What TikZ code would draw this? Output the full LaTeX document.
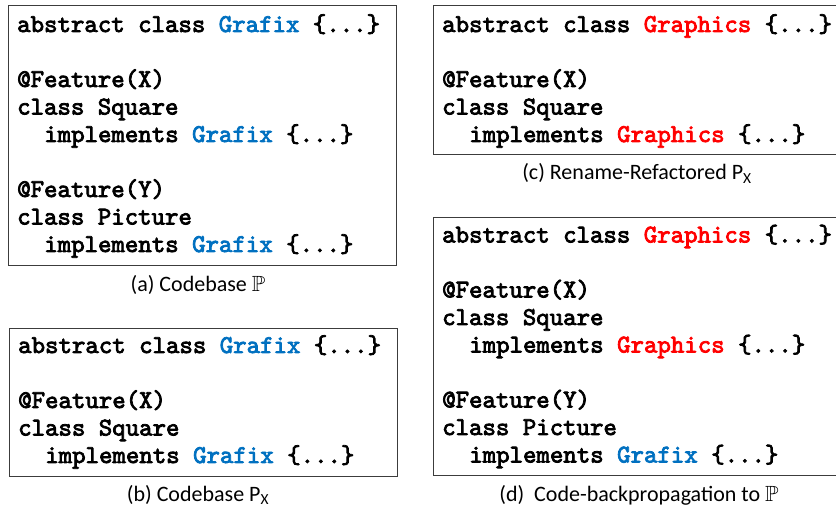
\documentclass[tikz,border=0pt]{standalone}
\usepackage{amssymb}
\usepackage{fontspec}
\setmainfont{Carlito}
\newfontfamily\codefont{lmmono10-regular.otf}[FakeBold=3]
\definecolor{oldname}{RGB}{0,112,192}
\definecolor{newname}{RGB}{255,0,0}
\definecolor{frame}{RGB}{60,60,60}
\newcommand{\oldn}[1]{\textcolor{oldname}{#1}}
\newcommand{\newn}[1]{\textcolor{newname}{#1}}
\tikzset{
  code/.style={anchor=base west, inner sep=0pt, font=\codefont\fontsize{25.6}{27.5}\selectfont},
  codebox/.style={draw=frame, line width=1.3pt, anchor=north west, inner sep=0pt},
  caption/.style={anchor=base, inner sep=0pt, font=\fontsize{22}{26}\selectfont},
}
\begin{document}
\begin{tikzpicture}[x=1pt,y=-1pt]
\useasboundingbox (0,0) rectangle (836,510);
\clip (0,0) rectangle (836,510);

% (a) the full codebase
\node[codebox, minimum width=388pt, minimum height=260pt] (boxA) at (8,5) {};
\node[code] (a1) at (17,32) {abstract class \oldn{Grafix} \{...\}};
\node[code] (a2) at (17,87) {@Feature(X)};
\node[code] (a3) at (17,114.5) {class Square};
\node[code] (a4) at (44.1,142) {implements \oldn{Grafix} \{...\}};
\node[code] (a5) at (17,197) {@Feature(Y)};
\node[code] (a6) at (17,224.5) {class Picture};
\node[code] (a7) at (44.1,252) {implements \oldn{Grafix} \{...\}};
\node[caption] (capA) at (198,292) {(a) Codebase $\mathbb{P}$};

% (b) the projection onto feature X
\node[codebox, minimum width=388pt, minimum height=148pt] (boxB) at (9,328) {};
\node[code] (b1) at (18,353) {abstract class \oldn{Grafix} \{...\}};
\node[code] (b2) at (18,408) {@Feature(X)};
\node[code] (b3) at (18,435.5) {class Square};
\node[code] (b4) at (45.1,463) {implements \oldn{Grafix} \{...\}};
\node[caption] (capB) at (198,501.5) {(b) Codebase $\mathrm{P}_{\mathrm{X}}$};

% (c) the projection after renaming
\node[codebox, minimum width=420pt, minimum height=149pt] (boxC) at (433,5) {};
\node[code] (c1) at (442,32) {abstract class \newn{Graphics} \{...\}};
\node[code] (c2) at (442,87) {@Feature(X)};
\node[code] (c3) at (442,114.5) {class Square};
\node[code] (c4) at (469.1,142) {implements \newn{Graphics} \{...\}};
\node[caption] (capC) at (637,180) {(c) Rename-Refactored $\mathrm{P}_{\mathrm{X}}$};

% (d) the change carried back to the full codebase
\node[codebox, minimum width=420pt, minimum height=258pt] (boxD) at (433,217) {};
\node[code] (d1) at (442,242.5) {abstract class \newn{Graphics} \{...\}};
\node[code] (d2) at (442,297.5) {@Feature(X)};
\node[code] (d3) at (442,325) {class Square};
\node[code] (d4) at (469.1,352.5) {implements \newn{Graphics} \{...\}};
\node[code] (d5) at (442,407.5) {@Feature(Y)};
\node[code] (d6) at (442,435) {class Picture};
\node[code] (d7) at (469.1,462.5) {implements \oldn{Grafix} \{...\}};
\node[caption] (capD) at (639,501.5) {(d)\ \ Code-backpropagation to $\mathbb{P}$};
\end{tikzpicture}
\end{document}
